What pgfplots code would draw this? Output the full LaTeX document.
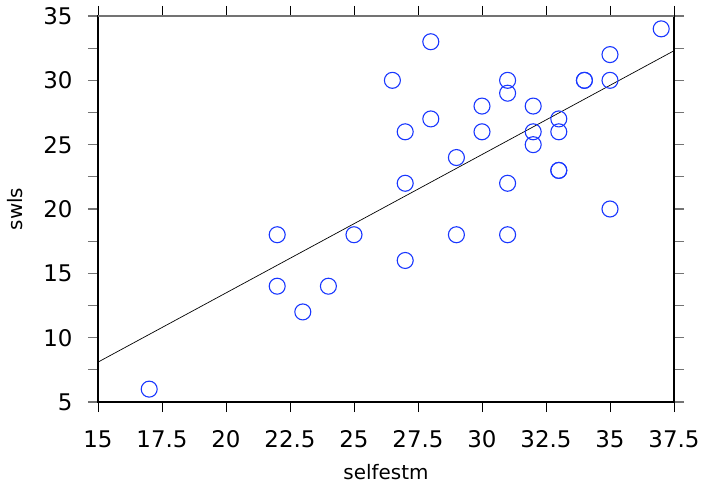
\documentclass[border=0pt]{standalone}
\usepackage{fontspec}
\setmainfont{DejaVu Sans}
\usepackage{pgfplots}
\pgfplotsset{compat=1.18}
\definecolor{markblue}{RGB}{25,55,255}
\definecolor{tickgray}{gray}{0.45}

\begin{document}
\begin{tikzpicture}
\begin{axis}[
    scale only axis,
    width=576bp, height=386bp,
    xmin=15, xmax=37.5, ymin=5, ymax=35,
    xtick={15,17.5,...,37.5},
    ytick={5,10,...,35},
    minor ytick={7.5,12.5,...,32.5},
    tick align=outside,
    major tick length=10bp, minor tick length=10bp,
    xtick pos=both, ytick pos=both,
    xticklabel pos=bottom, yticklabel pos=left,
    x tick style={black, line width=0.9pt},
    y tick style={tickgray, line width=1.2pt},
    minor y tick style={tickgray, line width=1.2pt},
    axis line style={black, line width=1.1pt},
    /pgf/number format/assume math mode=true,
    tick label style={font=\fontsize{23}{27}\selectfont, black},
    xticklabel style={yshift=-15bp},
    yticklabel style={xshift=-12bp},
    xlabel={selfestm}, ylabel={swls},
    label style={font=\fontsize{20}{24}\selectfont},
    xlabel style={yshift=-10bp},
    ylabel style={yshift=14bp},
    clip=false,
]
\addplot[black, line width=0.7pt] coordinates {(15,8.1) (37.5,32.3)};
\addplot[only marks, mark=o, mark size=8bp, mark options={markblue, line width=1.1pt}]
  coordinates {
  (17,6) (22,18) (22,14) (23,12) (24,14) (25,18)
  (26.5,30) (27,26) (27,22) (27,16)
  (28,33) (28,27) (29,24) (29,18)
  (30,28) (30,26)
  (31,30) (31,29) (31,22) (31,18)
  (32,28) (32,26) (32,25)
  (33,27) (33,26) (33,23) (33,23)
  (34,30) (34,30)
  (35,32) (35,30) (35,20)
  (37,34)
  };
\draw[tickgray, line width=1.2pt] (rel axis cs:0,1) -- (rel axis cs:1,1);
\end{axis}
\pgfresetboundingbox
\useasboundingbox (-98bp,-89bp) rectangle (609bp,402bp);
\end{tikzpicture}
\end{document}
